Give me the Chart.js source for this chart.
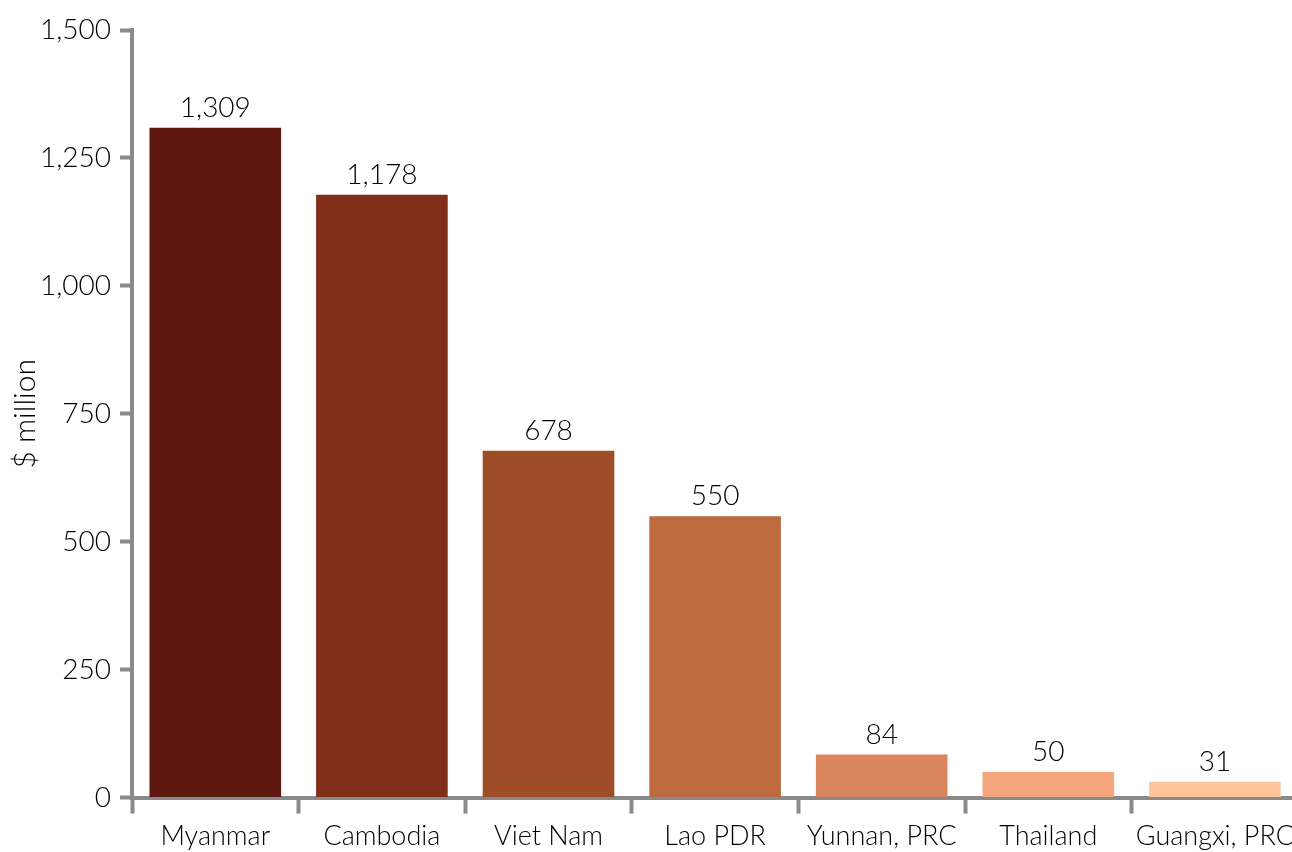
<!DOCTYPE html>
<html>
<head>
<meta charset="utf-8">
<script src="https://cdn.jsdelivr.net/npm/chart.js"></script>
<style>
  html, body { margin: 0; padding: 0; overflow: hidden; background: #fff; }
  #wrap { width: 1300px; height: 858px; }
</style>
</head>
<body>
<div id="wrap"><canvas id="chart" width="1300" height="858"></canvas></div>
<script>
// 数据
const categories = ['Myanmar', 'Cambodia', 'Viet Nam', 'Lao PDR', 'Yunnan, PRC', 'Thailand', 'Guangxi, PRC'];
const values = [1309, 1178, 678, 550, 84, 50, 31];
const barColors = ['#5E170F', '#802E1A', '#9E4D26', '#BD6B3E', '#D9865E', '#F5A67C', '#FDC69A'];
const yTicks = [0, 250, 500, 750, 1000, 1250, 1500];

const FONT = 'Lato, "Open Sans", sans-serif';
const AXIS = '#8a8a8a';
const TEXT = '#000000';
const fmt = (v) => v.toLocaleString('en-US');

// 柱顶数值标签
const valueLabels = {
  id: 'valueLabels',
  afterDatasetsDraw(chart) {
    const ctx = chart.ctx;
    const meta = chart.getDatasetMeta(0);
    ctx.save();
    ctx.font = '300 28px ' + FONT;
    ctx.fillStyle = TEXT;
    ctx.textAlign = 'center';
    ctx.textBaseline = 'alphabetic';
    meta.data.forEach((bar, i) => {
      ctx.fillText(fmt(values[i]), bar.x, bar.y - 11);
    });
    ctx.restore();
  }
};

new Chart(document.getElementById('chart'), {
  type: 'bar',
  data: {
    labels: categories,
    datasets: [{
      data: values,
      backgroundColor: barColors,
      barPercentage: 0.79,
      categoryPercentage: 1.0
    }]
  },
  options: {
    responsive: false,
    animation: false,
    devicePixelRatio: 1,
    layout: { padding: { top: 30, right: 0, bottom: 0, left: 0 } },
    plugins: { legend: { display: false }, tooltip: { enabled: false } },
    scales: {
      x: {
        grid: {
          offset: true,
          drawOnChartArea: false,
          drawTicks: true,
          tickLength: 16,
          tickColor: AXIS,
          tickWidth: 4
        },
        border: { display: true, color: AXIS, width: 4 },
        ticks: {
          color: TEXT,
          font: { family: FONT, size: 27, weight: 300 },
          padding: 6,
          maxRotation: 0,
          autoSkip: false
        }
      },
      y: {
        min: 0,
        max: 1500,
        afterBuildTicks(scale) {
          scale.ticks = yTicks.map((v) => ({ value: v }));
        },
        afterFit(scale) {
          scale.width = 132;
        },
        grid: {
          drawOnChartArea: false,
          drawTicks: true,
          tickLength: 12,
          tickColor: AXIS,
          tickWidth: 4
        },
        border: { display: true, color: AXIS, width: 4 },
        ticks: {
          color: TEXT,
          font: { family: FONT, size: 28, weight: 300 },
          padding: 9,
          callback: (v) => fmt(v)
        },
        title: {
          display: true,
          text: '$ million',
          color: TEXT,
          font: { family: FONT, size: 30, weight: 300 },
          padding: { top: 7, bottom: 0 }
        }
      }
    }
  },
  plugins: [valueLabels]
});
</script>
</body>
</html>
